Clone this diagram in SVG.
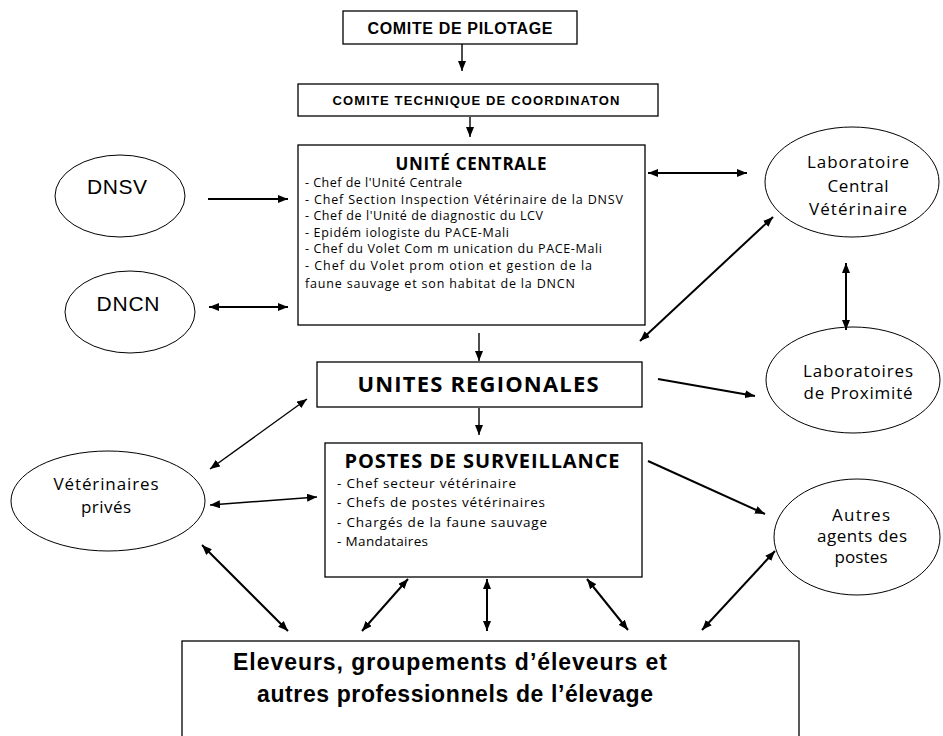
<svg xmlns="http://www.w3.org/2000/svg" width="943" height="736" viewBox="0 0 943 736">
<style>
.box{fill:#fff;stroke:#000;stroke-width:1.3}
.ell{fill:#fff;stroke:#000;stroke-width:1}
.cap{font-family:"Liberation Sans",Arial,sans-serif;font-weight:bold;fill:#000}
.hum{font-family:"Open Sans","DejaVu Sans",sans-serif;fill:#000}
.ttl{font-family:"Open Sans","DejaVu Sans",sans-serif;font-weight:bold;fill:#000}
.ari{font-family:"Liberation Sans",Arial,sans-serif;fill:#000}
.c{stroke:#000;stroke-width:2;fill:none}
.t{stroke-width:1.4}
</style>
<defs>
<marker id="ah" markerUnits="userSpaceOnUse" markerWidth="10" markerHeight="8" refX="10" refY="4" orient="auto-start-reverse">
<path d="M0,0 L10,4 L0,8 z" fill="#000"/>
</marker>
</defs>
<rect width="943" height="736" fill="#fff"/>

<g id="comite-pilotage">
<rect class="box" x="343" y="11" width="234" height="33"/>
<text class="cap" x="460" y="34" font-size="16" text-anchor="middle" textLength="185">COMITE DE PILOTAGE</text>
</g>
<g id="comite-technique">
<rect class="box" x="298" y="84" width="360" height="32"/>
<text class="cap" x="476" y="105" font-size="13" text-anchor="middle" textLength="287">COMITE TECHNIQUE DE COORDINATON</text>
</g>
<g id="unite-centrale">
<rect class="box" x="298" y="145" width="347" height="180"/>
<text class="ttl" x="471" y="170" font-size="17" text-anchor="middle" textLength="151">UNITÉ CENTRALE</text>
<g class="hum" font-size="12.5">
<text x="305" y="187" textLength="157">- Chef  de l'Unité Centrale</text>
<text x="305" y="204" textLength="318">- Chef Section Inspection Vétérinaire de la DNSV</text>
<text x="305" y="220" textLength="238">- Chef de l'Unité de diagnostic  du LCV</text>
<text x="305" y="237" textLength="204">- Epidém iologiste du PACE-Mali</text>
<text x="305" y="253" textLength="297">- Chef du Volet Com m unication du PACE-Mali</text>
<text x="305" y="270" textLength="287">- Chef du Volet  prom otion et  gestion de la</text>
<text x="305" y="288" textLength="270">faune sauvage et son habitat de la DNCN</text>
</g>
</g>
<g id="dnsv">
<ellipse class="ell" cx="120" cy="196" rx="65" ry="41"/>
<text class="ari" x="117" y="194" font-size="21" text-anchor="middle" textLength="60">DNSV</text>
</g>
<g id="dncn">
<ellipse class="ell" cx="130" cy="312" rx="65" ry="41"/>
<text class="ari" x="128" y="311" font-size="21" text-anchor="middle" textLength="63">DNCN</text>
</g>
<g id="lcv">
<ellipse class="ell" cx="852" cy="182" rx="87" ry="55"/>
<g class="hum" font-size="17" text-anchor="middle">
<text x="858" y="168" textLength="102">Laboratoire</text>
<text x="858" y="192" textLength="61">Central</text>
<text x="858" y="215" textLength="98">Vétérinaire</text>
</g>
</g>
<g id="labo-proximite">
<ellipse class="ell" cx="853" cy="380" rx="87" ry="53"/>
<g class="hum" font-size="17" text-anchor="middle">
<text x="858" y="377" textLength="110">Laboratoires</text>
<text x="858" y="399" textLength="109">de Proximité</text>
</g>
</g>
<g id="unites-regionales">
<rect class="box" x="317" y="362" width="325" height="45"/>
<text class="ttl" x="478" y="392" font-size="22" text-anchor="middle" textLength="241">UNITES  REGIONALES</text>
</g>
<g id="postes-surveillance">
<rect class="box" x="325" y="443" width="317" height="134"/>
<text class="ttl" x="482" y="468" font-size="20" text-anchor="middle" textLength="275">POSTES DE SURVEILLANCE</text>
<g class="hum" font-size="13.5">
<text x="337" y="488" textLength="179">- Chef secteur  vétérinaire</text>
<text x="337" y="507" textLength="208">- Chefs de postes vétérinaires</text>
<text x="337" y="527" textLength="210">- Chargés de la faune sauvage</text>
<text x="337" y="546" textLength="91">- Mandataires</text>
</g>
</g>
<g id="veterinaires-prives">
<ellipse class="ell" cx="108" cy="501" rx="97" ry="50"/>
<g class="hum" font-size="17" text-anchor="middle">
<text x="106" y="490" textLength="105">Vétérinaires</text>
<text x="106" y="513" textLength="50">privés</text>
</g>
</g>
<g id="autres-agents">
<ellipse class="ell" cx="857" cy="537" rx="83" ry="58"/>
<g class="hum" font-size="17" text-anchor="middle">
<text x="861" y="521" textLength="58">Autres</text>
<text x="862" y="542" textLength="90">agents des</text>
<text x="861" y="563" textLength="53">postes</text>
</g>
</g>
<g id="eleveurs">
<rect class="box" x="182" y="641" width="617" height="110"/>
<text class="cap" x="450" y="670" font-size="23" text-anchor="middle" textLength="434">Eleveurs, groupements d’éleveurs et</text>
<text class="cap" x="455" y="702" font-size="23" text-anchor="middle" textLength="396">autres professionnels de l’élevage</text>
</g>

<g id="connectors">
<line class="c t" x1="462" y1="44" x2="462" y2="71" marker-end="url(#ah)"/>
<line class="c t" x1="470" y1="117" x2="470" y2="137" marker-end="url(#ah)"/>
<line class="c" x1="208" y1="199" x2="288" y2="199" marker-end="url(#ah)"/>
<line class="c" x1="209" y1="307" x2="288" y2="307" marker-start="url(#ah)" marker-end="url(#ah)"/>
<line class="c" x1="648" y1="173" x2="747" y2="173" marker-start="url(#ah)" marker-end="url(#ah)"/>
<line class="c" x1="773" y1="217" x2="640" y2="341" marker-start="url(#ah)" marker-end="url(#ah)"/>
<line class="c" x1="846" y1="263" x2="846" y2="330" marker-start="url(#ah)" marker-end="url(#ah)"/>
<line class="c" x1="658" y1="379" x2="755" y2="396" marker-end="url(#ah)"/>
<line class="c t" x1="479" y1="333" x2="479" y2="361" marker-end="url(#ah)"/>
<line class="c t" x1="479" y1="408" x2="479" y2="435" marker-end="url(#ah)"/>
<line class="c t" x1="210" y1="469" x2="307" y2="399" marker-start="url(#ah)" marker-end="url(#ah)"/>
<line class="c t" x1="210" y1="505" x2="317" y2="497" marker-start="url(#ah)" marker-end="url(#ah)"/>
<line class="c" x1="648" y1="461" x2="765" y2="514" marker-end="url(#ah)"/>
<line class="c" x1="202" y1="545" x2="288" y2="631" marker-start="url(#ah)" marker-end="url(#ah)"/>
<line class="c" x1="408" y1="579" x2="362" y2="631" marker-start="url(#ah)" marker-end="url(#ah)"/>
<line class="c" x1="487" y1="579" x2="487" y2="631" marker-start="url(#ah)" marker-end="url(#ah)"/>
<line class="c" x1="587" y1="579" x2="628" y2="630" marker-start="url(#ah)" marker-end="url(#ah)"/>
<line class="c" x1="775" y1="551" x2="702" y2="630" marker-start="url(#ah)" marker-end="url(#ah)"/>
</g>
</svg>
